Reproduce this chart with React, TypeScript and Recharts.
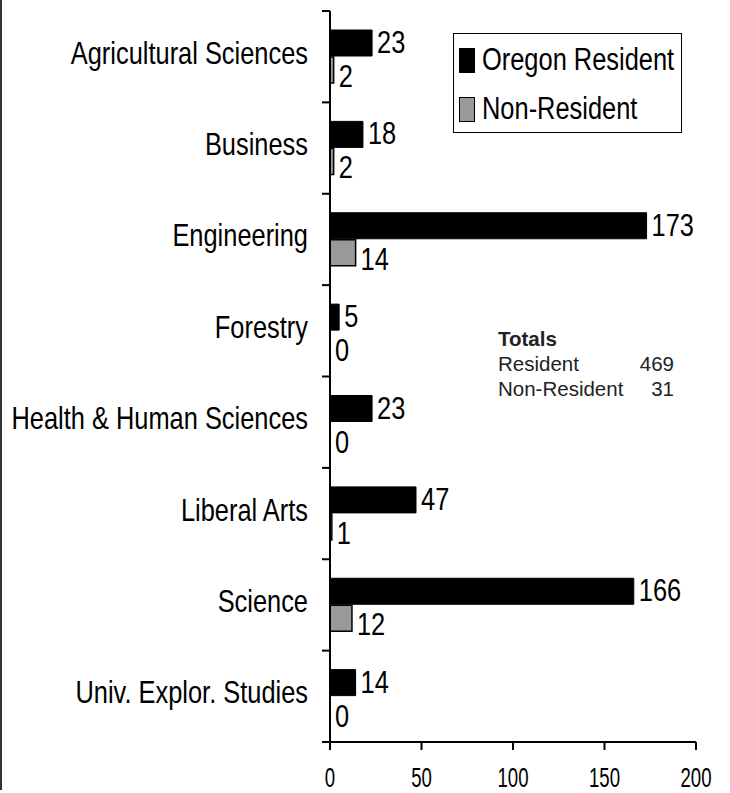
import React from 'react';
import { BarChart, Bar, XAxis, YAxis, Legend, LabelList } from 'recharts';

// 各学院新生人数（州内 / 州外）
const categories = [
  'Agricultural Sciences',
  'Business',
  'Engineering',
  'Forestry',
  'Health & Human Sciences',
  'Liberal Arts',
  'Science',
  'Univ. Explor. Studies',
];
const residentValues = [23, 18, 173, 5, 23, 47, 166, 14];
const nonResidentValues = [2, 2, 14, 0, 0, 1, 12, 0];
const xTicks = [0, 50, 100, 150, 200];
const seriesNames = ['Oregon Resident', 'Non-Resident'];

const W = 730;
const H = 793;
const MARGIN = { top: 11, right: 34, bottom: 0, left: 0 };
const X_AXIS_H = 51;
const Y_AXIS_W = 330;
const BAND = (H - MARGIN.top - MARGIN.bottom - X_AXIS_H) / categories.length;

// 没有 Arial Narrow，用 Liberation Sans 横向压缩代替
const SANS = "'Liberation Sans', Arial, sans-serif";
const NARROW_X = 0.82;
const GRAY = '#999999';

const rows = categories.map((name, i) => ({
  name,
  resident: residentValues[i],
  nonResident: nonResidentValues[i],
}));

const totalResident = residentValues.reduce((a, b) => a + b, 0);
const totalNonResident = nonResidentValues.reduce((a, b) => a + b, 0);

const NarrowText = ({ x, y, size, sx = NARROW_X, anchor = 'start', children }: any) => (
  <text
    transform={`translate(${x},${y}) scale(${sx},1)`}
    textAnchor={anchor}
    fontFamily={SANS}
    fontSize={size}
    fill="#000"
  >
    {children}
  </text>
);

// 类别标签 + 分隔刻度
const CategoryTick = ({ x, y, payload, index }: any) => (
  <g>
    <NarrowText x={x - 22} y={y + 7} size={31} anchor="end">
      {payload.value}
    </NarrowText>
    <line x1={x - 8} x2={x} y1={y - BAND / 2} y2={y - BAND / 2} stroke="#000" strokeWidth={2} />
    {index === categories.length - 1 && (
      <line x1={x - 8} x2={x} y1={y + BAND / 2} y2={y + BAND / 2} stroke="#000" strokeWidth={2} />
    )}
  </g>
);

const ValueTick = ({ x, y, payload }: any) => (
  <NarrowText x={x} y={y + 35} size={27} sx={0.69} anchor="middle">
    {payload.value}
  </NarrowText>
);

const makeLabel = (dy: number) => (props: any) => {
  const box = props.viewBox ?? props;
  const x = Number(box.x ?? props.x);
  const y = Number(box.y ?? props.y);
  const width = Number(box.width ?? props.width) || 0;
  return (
    <NarrowText x={x + width + 5} y={y + dy} size={31}>
      {props.value}
    </NarrowText>
  );
};

const LegendBox = () => (
  <div
    style={{
      width: 229,
      height: 100,
      boxSizing: 'border-box',
      border: '1.5px solid #000',
      background: '#fff',
      position: 'relative',
      fontFamily: SANS,
      fontSize: 31,
      color: '#000',
    }}
  >
    {seriesNames.map((n, i) => (
      <div key={n} style={{ position: 'absolute', left: 5, top: 14 + i * 49 }}>
        <div
          style={{
            position: 'absolute',
            left: 0,
            top: 0,
            width: 16,
            height: 25,
            boxSizing: 'border-box',
            background: i === 0 ? '#000' : GRAY,
            border: '1.5px solid #000',
          }}
        />
        <span
          style={{
            position: 'absolute',
            left: 23,
            top: -6,
            lineHeight: '36px',
            whiteSpace: 'nowrap',
            display: 'inline-block',
            transform: `scaleX(${NARROW_X})`,
            transformOrigin: 'left center',
          }}
        >
          {n}
        </span>
      </div>
    ))}
  </div>
);

export default function App() {
  return (
    <div style={{ position: 'absolute', left: 0, top: 0, width: W, height: H, background: '#fff' }}>
      <BarChart
        layout="vertical"
        width={W}
        height={H}
        data={rows}
        margin={MARGIN}
        barSize={26}
        barGap={1}
      >
        <XAxis
          type="number"
          domain={[0, 200]}
          ticks={xTicks}
          height={X_AXIS_H}
          tickSize={8}
          axisLine={{ stroke: '#000', strokeWidth: 2 }}
          tickLine={{ stroke: '#000', strokeWidth: 2 }}
          tick={<ValueTick />}
          interval={0}
        />
        <XAxis
          xAxisId="top"
          orientation="top"
          type="number"
          domain={[0, 200]}
          height={0}
          tick={false}
          tickLine={false}
          axisLine={{ stroke: '#000', strokeWidth: 1.5 }}
        />
        <YAxis
          type="category"
          dataKey="name"
          width={Y_AXIS_W}
          tickSize={0}
          tickMargin={0}
          tickLine={false}
          axisLine={{ stroke: '#000', strokeWidth: 2 }}
          tick={<CategoryTick />}
          interval={0}
        />
        <YAxis
          yAxisId="right"
          orientation="right"
          type="category"
          dataKey="name"
          width={0}
          tick={false}
          tickLine={false}
          axisLine={{ stroke: '#000', strokeWidth: 1.5 }}
        />
        <Legend
          layout="vertical"
          align="center"
          verticalAlign="middle"
          content={<LegendBox />}
          wrapperStyle={{ left: 453, top: 33, width: 229, height: 100 }}
        />
        <Bar
          dataKey="resident"
          name={seriesNames[0]}
          fill="#000"
          stroke="#000"
          strokeWidth={1}
          minPointSize={0.01}
          isAnimationActive={false}
        >
          <LabelList dataKey="resident" content={makeLabel(23)} />
        </Bar>
        <Bar
          dataKey="nonResident"
          name={seriesNames[1]}
          fill={GRAY}
          stroke="#000"
          strokeWidth={1.5}
          minPointSize={0.01}
          isAnimationActive={false}
        >
          <LabelList dataKey="nonResident" content={makeLabel(30)} />
        </Bar>
      </BarChart>

      {/* 左侧边框 */}
      <div style={{ position: 'absolute', left: 0, top: 0, width: 2, height: 790, background: '#333' }} />

      {/* 合计 */}
      <div style={{ position: 'absolute', left: 498, top: 326, width: 176, fontFamily: SANS, fontSize: 20.5, color: '#222', lineHeight: '25px' }}>
        <div style={{ fontWeight: 'bold' }}>Totals</div>
        <div style={{ display: 'flex', justifyContent: 'space-between' }}>
          <span>Resident</span>
          <span>{totalResident}</span>
        </div>
        <div style={{ display: 'flex', justifyContent: 'space-between' }}>
          <span>Non-Resident</span>
          <span>{totalNonResident}</span>
        </div>
      </div>
    </div>
  );
}
